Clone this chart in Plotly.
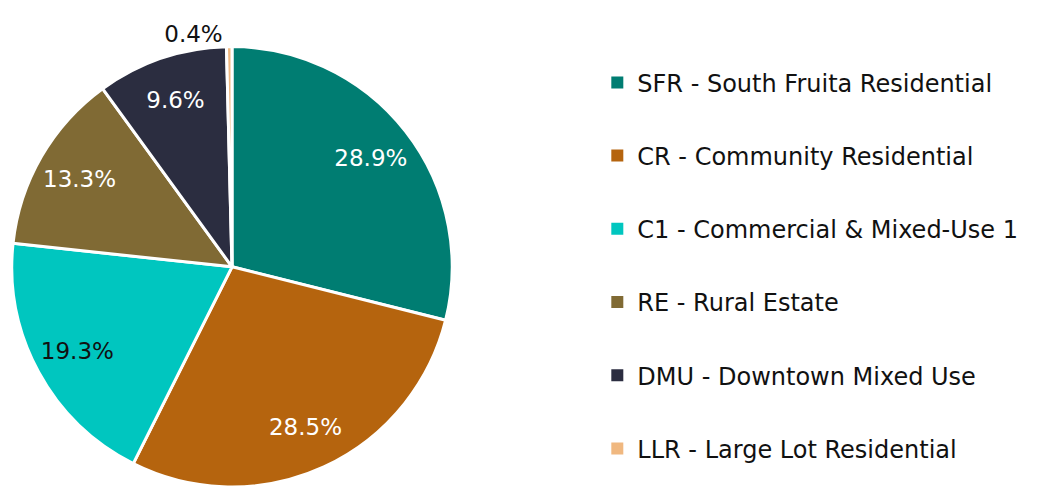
import plotly.graph_objects as go

labels = ["SFR - South Fruita Residential", "CR - Community Residential",
          "C1 - Commercial & Mixed-Use 1", "RE - Rural Estate",
          "DMU - Downtown Mixed Use", "LLR - Large Lot Residential"]
values = [28.9, 28.5, 19.3, 13.3, 9.6, 0.4]
colors = ["#007D72", "#B5640E", "#00C6BF", "#806A34", "#2B2D40", "#F0B880"]
text_colors = ["white", "white", "#111111", "white", "white", "#111111"]
text_pos = ["inside", "inside", "inside", "inside", "inside", "outside"]

W, H = 1037, 492
FONT = "DejaVu Sans"
dom = dict(x=[10 / W, 454 / W], y=[(H - 491) / H, (H - 47) / H])

fig = go.Figure()
# the pie itself
fig.add_trace(go.Pie(
    labels=labels, values=values, sort=False, direction="clockwise", rotation=0,
    marker=dict(colors=colors, line=dict(color="white", width=3)),
    textinfo="none", showlegend=False, hoverinfo="label+value",
    domain=dom,
))
# transparent ring carrying the percentage labels (puts them at ~0.8 R)
fig.add_trace(go.Pie(
    labels=labels, values=values, sort=False, direction="clockwise", rotation=0,
    hole=0.6,
    marker=dict(colors=["rgba(0,0,0,0)"] * len(values), line=dict(width=0)),
    texttemplate="%{value:.1f}%", textposition=text_pos,
    insidetextorientation="horizontal",
    textfont=dict(family=FONT, size=23, color=text_colors),
    showlegend=False, hoverinfo="skip",
    domain=dom,
))

for i, (lab, col) in enumerate(zip(labels, colors)):
    fig.add_trace(go.Scatter(
        x=[None], y=[None], mode="markers", name=lab, legendgroup=f"g{i}",
        marker=dict(symbol="square", size=12, color=col),
        showlegend=True,
    ))

fig.update_layout(
    width=W, height=H, margin=dict(l=0, r=0, t=0, b=0),
    paper_bgcolor="white", plot_bgcolor="white",
    font=dict(family=FONT, size=24, color="#111111"),
    xaxis=dict(visible=False), yaxis=dict(visible=False),
    legend=dict(x=0.576, y=(H - 268) / H, xanchor="left", yanchor="middle",
                tracegroupgap=39, font=dict(size=24), itemsizing="trace",
                bgcolor="rgba(0,0,0,0)"),
)

fig.write_html("out.html", config={"displayModeBar": False},
               post_script="document.body.style.margin='0';document.body.style.overflow='hidden';")
